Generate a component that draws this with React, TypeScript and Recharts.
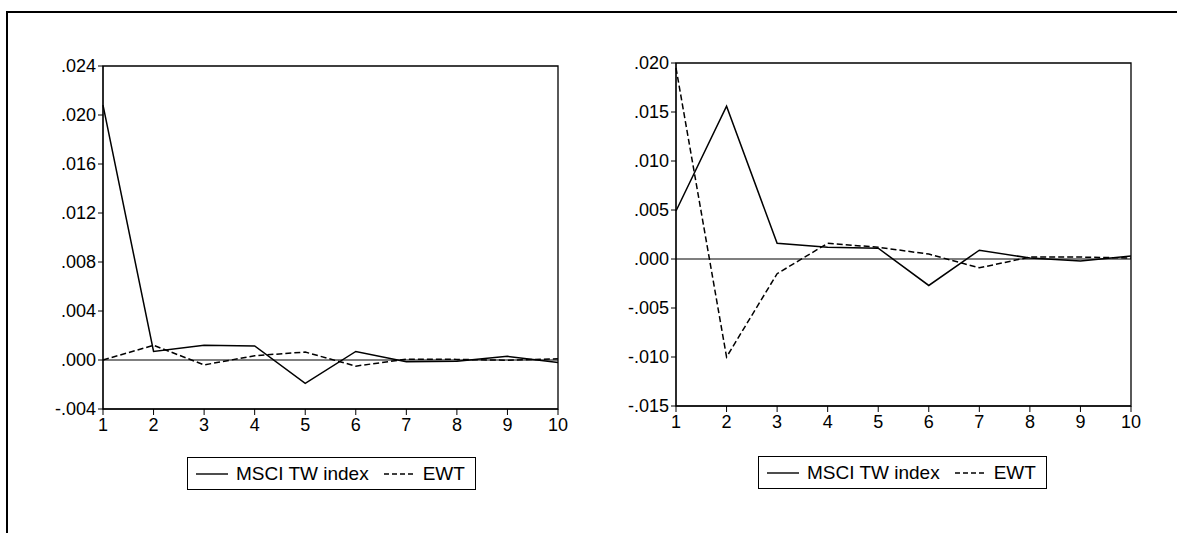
import React from "react";
import {
  LineChart,
  Line,
  XAxis,
  YAxis,
  ReferenceLine,
  ReferenceArea,
} from "recharts";

const lags = [1, 2, 3, 4, 5, 6, 7, 8, 9, 10];

// left panel
const leftMsci = [0.0208, 0.0007, 0.0012, 0.00115, -0.0019, 0.0007, -0.00015, -0.0001, 0.0003, -0.0002];
const leftEwt = [0, 0.0012, -0.0004, 0.00035, 0.00065, -0.0005, 0.00007, 0.00005, -0.00002, 0.0001];
const leftTicks = [-0.004, 0, 0.004, 0.008, 0.012, 0.016, 0.02, 0.024];

// right panel
const rightMsci = [0.0049, 0.0156, 0.0016, 0.0012, 0.0011, -0.0027, 0.0009, 0.0001, -0.0002, 0.0003];
const rightEwt = [0.0195, -0.01, -0.0015, 0.0016, 0.0012, 0.0005, -0.0009, 0.0002, 0.0002, 0.0001];
const rightTicks = [-0.015, -0.01, -0.005, 0, 0.005, 0.01, 0.015, 0.02];

const seriesNames = ["MSCI TW index", "EWT"];

const FONT = '"Liberation Sans", Arial, sans-serif';

function fmt(v: number): string {
  const s = Math.abs(v).toFixed(3).replace(/^0/, "");
  return v < -1e-9 ? "-" + s : s;
}

function LegendBox({ left, top }: { left: number; top: number }) {
  return (
    <div
      style={{
        position: "absolute",
        left,
        top,
        width: 287,
        height: 31,
        border: "1px solid #000",
        display: "flex",
        alignItems: "center",
        fontFamily: FONT,
        fontSize: 19,
        color: "#000",
        whiteSpace: "nowrap",
      }}
    >
      <svg width={32} height={4} style={{ marginLeft: 8, marginRight: 8 }}>
        <line x1={0} y1={2} x2={32} y2={2} stroke="#000" strokeWidth={1.4} />
      </svg>
      <span>{seriesNames[0]}</span>
      <svg width={30} height={4} style={{ marginLeft: 15, marginRight: 9 }}>
        <line x1={0} y1={2} x2={30} y2={2} stroke="#000" strokeWidth={1.4} strokeDasharray="5 3" />
      </svg>
      <span>{seriesNames[1]}</span>
    </div>
  );
}

function Panel({
  msci,
  ewt,
  ticks,
  left,
  top,
  width,
  plotLeft,
  plotRight,
  plotTop,
  plotBottom,
}: {
  msci: number[];
  ewt: number[];
  ticks: number[];
  left: number;
  top: number;
  width: number;
  plotLeft: number;
  plotRight: number;
  plotTop: number;
  plotBottom: number;
}) {
  const height = 533 - top;
  const yW = 60;
  const xH = 32;
  const data = lags.map((lag, i) => ({ lag, msci: msci[i], ewt: ewt[i] }));
  const yMin = ticks[0];
  const yMax = ticks[ticks.length - 1];
  return (
    <div style={{ position: "absolute", left, top }}>
      <LineChart
        width={width}
        height={height}
        data={data}
        margin={{
          top: plotTop - top,
          left: plotLeft - left - yW,
          right: left + width - plotRight,
          bottom: height - (plotBottom - top) - xH,
        }}
      >
        <XAxis
          dataKey="lag"
          type="number"
          domain={[1, 10]}
          ticks={lags}
          interval={0}
          height={xH}
          tickSize={6}
          tickMargin={3}
          stroke="#000"
          tick={{ fill: "#000", fontSize: 18, fontFamily: FONT }}
        />
        <YAxis
          type="number"
          domain={[yMin, yMax]}
          ticks={ticks}
          interval={0}
          width={yW}
          tickSize={5}
          tickMargin={2}
          stroke="#000"
          tickFormatter={fmt}
          tick={{ fill: "#000", fontSize: 18, fontFamily: FONT }}
        />
        <ReferenceArea
          x1={1}
          x2={10}
          y1={yMin}
          y2={yMax}
          fill="none"
          stroke="#000"
          strokeWidth={1.3}
          fillOpacity={0}
        />
        <ReferenceLine y={0} stroke="#000" strokeWidth={1.1} />
        <Line
          type="linear"
          dataKey="msci"
          name={seriesNames[0]}
          stroke="#000"
          strokeWidth={1.5}
          dot={false}
          isAnimationActive={false}
        />
        <Line
          type="linear"
          dataKey="ewt"
          name={seriesNames[1]}
          stroke="#000"
          strokeWidth={1.5}
          strokeDasharray="6 3"
          dot={false}
          isAnimationActive={false}
        />
      </LineChart>
    </div>
  );
}

export default function App() {
  return (
    <div
      style={{
        position: "absolute",
        left: 0,
        top: 0,
        width: 1177,
        height: 533,
        background: "#fff",
        overflow: "hidden",
      }}
    >
      <div
        style={{
          position: "absolute",
          left: 6,
          top: 11,
          width: 1200,
          height: 600,
          borderTop: "2px solid #000",
          borderLeft: "2px solid #000",
        }}
      />
      <Panel
        msci={leftMsci}
        ewt={leftEwt}
        ticks={leftTicks}
        left={0}
        top={0}
        width={590}
        plotLeft={103}
        plotRight={558}
        plotTop={66}
        plotBottom={409}
      />
      <Panel
        msci={rightMsci}
        ewt={rightEwt}
        ticks={rightTicks}
        left={590}
        top={0}
        width={587}
        plotLeft={676}
        plotRight={1131}
        plotTop={63}
        plotBottom={406}
      />
      <LegendBox left={187} top={457} />
      <LegendBox left={758} top={456} />
    </div>
  );
}
